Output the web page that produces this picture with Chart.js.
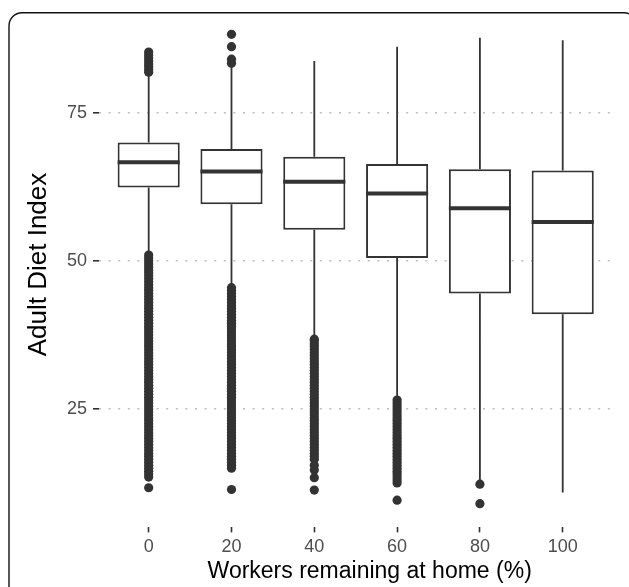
<!DOCTYPE html>
<html><head><meta charset="utf-8">
<script src="https://cdn.jsdelivr.net/npm/chart.js@4/dist/chart.umd.min.js"></script>
<style>html,body{margin:0;padding:0;background:#fff;} #wrap{width:629px;height:587px;position:relative;}</style>
</head><body><div id="wrap"><canvas id="c"></canvas></div>
<script>
// ---- data ----
const categories = [0, 20, 40, 60, 80, 100];
const xTickLabels = ['0', '20', '40', '60', '80', '100'];
const yTickValues = [25, 50, 75];
const q1 = [62.4, 59.6, 55.3, 50.5, 44.5, 41.0];
const median = [66.7, 65.1, 63.4, 61.4, 58.9, 56.6];
const q3 = [70.0, 68.9, 67.6, 66.4, 65.5, 65.3];
const whiskerLow = [51.5, 45.8, 37.3, 27.0, 13.0, 10.9];
const whiskerHigh = [81.6, 82.7, 83.8, 86.2, 87.7, 87.3];
const outliers0 = [85.3, 84.8, 84.3, 83.8, 83.3, 82.8, 82.3, 81.9,
  51, 50.5, 50, 49.5, 49, 48.5, 48, 47.5, 47, 46.5, 46, 45.5, 45, 44.5, 44, 43.5, 43, 42.5, 42, 41.5, 41, 40.5,
  40, 39.5, 39, 38.5, 38, 37.5, 37, 36.5, 36, 35.5, 35, 34.5, 34, 33.5, 33, 32.5, 32, 31.5, 31, 30.5,
  30, 29.5, 29, 28.5, 28, 27.5, 27, 26.5, 26, 25.5, 25, 24.5, 24, 23.5, 23, 22.5, 22, 21.5, 21, 20.5,
  20, 19.5, 19, 18.5, 18, 17.5, 17, 16.5, 16, 15.5, 15, 14.5, 14, 13.5, 11.7];
const outliers20 = [88.3, 86.2, 84.1, 83.4,
  45.5, 45, 44.5, 44, 43.5, 43, 42.5, 42, 41.5, 41, 40.5, 40, 39.5, 39, 38.5, 38, 37.5, 37, 36.5, 36,
  35.5, 35, 34.5, 34, 33.5, 33, 32.5, 32, 31.5, 31, 30.5, 30, 29.5, 29, 28.5, 28, 27.5, 27, 26.5, 26,
  25.5, 25, 24.5, 24, 23.5, 23, 22.5, 22, 21.5, 21, 20.5, 20, 19.5, 19, 18.5, 18, 17.5, 17, 16.5, 16,
  15.5, 15, 11.4];
const outliers40 = [36.8, 36.5, 36, 35.5, 35, 34.5, 34, 33.5, 33, 32.5, 32, 31.5, 31, 30.5, 30, 29.5, 29,
  28.5, 28, 27.5, 27, 26.5, 26, 25.5, 25, 24.5, 24, 23.5, 23, 22.5, 22, 21.5, 21, 20.5, 20, 19.5, 19,
  18.5, 18, 17.5, 17, 16.5, 15.5, 14.7, 13.4, 11.3];
const outliers60 = [26.5, 26, 25.5, 25, 24.5, 24, 23.5, 23, 22.5, 22, 21.5, 21, 20.5, 20, 19.5, 19, 18.5,
  18, 17.5, 17, 16.5, 16, 15.5, 15, 14.5, 14, 13.5, 13, 12.5, 9.6];
const outliers80 = [12.3, 9.0];
const outliers100 = [];
const outlierGroups = [outliers0, outliers20, outliers40, outliers60, outliers80, outliers100];
const xTitle = 'Workers remaining at home (%)';
const yTitle = 'Adult Diet Index';

// ---- build library datasets ----
const HALF = 7.5; // half box width in x units (box width = 0.75 of category spacing)
const DARK = '#333333';
const FONT = "'Liberation Sans', Arial, sans-serif";
const boxData = categories.map((c, i) => ({x: c, y: [q1[i], q3[i]]}));
const whiskerData = [];
categories.forEach((c, i) => {
  whiskerData.push({x: c, y: q3[i]}, {x: c, y: whiskerHigh[i]}, {x: c, y: null});
  whiskerData.push({x: c, y: q1[i]}, {x: c, y: whiskerLow[i]}, {x: c, y: null});
});
const medianData = [];
categories.forEach((c, i) => {
  medianData.push({x: c - HALF, y: median[i]}, {x: c + HALF, y: median[i]}, {x: c, y: null});
});
const outlierData = [];
categories.forEach((c, i) => outlierGroups[i].forEach(v => outlierData.push({x: c, y: v})));

Chart.defaults.font.family = FONT;

const frame = {
  id: 'frame',
  beforeDraw(chart) {
    const ctx = chart.ctx;
    ctx.save();
    ctx.fillStyle = '#fff';
    ctx.fillRect(0, 0, chart.width, chart.height);
    ctx.restore();
  },
  afterDraw(chart) {
    const ctx = chart.ctx;
    const ca = chart.chartArea;
    ctx.save();
    ctx.strokeStyle = '#111';
    ctx.lineWidth = 1.4;
    ctx.beginPath();
    ctx.roundRect(9, 12.7, 628, 640, 13);
    ctx.stroke();
    // axis titles
    ctx.fillStyle = '#000';
    ctx.textAlign = 'center';
    ctx.textBaseline = 'middle';
    ctx.font = '23px ' + FONT;
    ctx.fillText(xTitle, (ca.left + ca.right) / 2 + 14, 571.5);
    ctx.translate(38.5, (ca.top + ca.bottom) / 2 - 4.5);
    ctx.rotate(-Math.PI / 2);
    ctx.font = '26px ' + FONT;
    ctx.fillText(yTitle, 0, 0);
    ctx.restore();
  }
};

new Chart(document.getElementById('c'), {
  type: 'bar',
  plugins: [frame],
  data: {
    datasets: [
      {type: 'line', data: medianData, borderColor: DARK, borderWidth: 4, pointRadius: 0,
       spanGaps: false, borderCapStyle: 'butt', order: 0},
      {type: 'bar', data: boxData, backgroundColor: '#ffffff', borderColor: DARK, borderWidth: 2,
       borderSkipped: false, barPercentage: 0.75, categoryPercentage: 1, grouped: false, order: 1},
      {type: 'line', data: whiskerData, borderColor: DARK, borderWidth: 1.8, pointRadius: 0,
       spanGaps: false, borderCapStyle: 'butt', order: 2},
      {type: 'scatter', data: outlierData, backgroundColor: DARK, borderWidth: 0, pointRadius: 4.6,
       order: 3}
    ]
  },
  options: {
    responsive: true,
    maintainAspectRatio: false,
    animation: false,
    layout: {padding: {left: 26, right: 16.6, top: 10.6, bottom: 0}},
    plugins: {legend: {display: false}, tooltip: {enabled: false}},
    scales: {
      x: {
        type: 'linear', min: -12, max: 112, offset: false,
        afterBuildTicks: s => { s.ticks = categories.map(v => ({value: v})); },
        afterFit: s => { s.height = 59.6; s.paddingLeft = 0; s.paddingRight = 0; },
        grid: {drawOnChartArea: false, drawTicks: true, tickLength: 5, tickColor: DARK, tickWidth: 1.6, offset: false},
        border: {display: false},
        ticks: {padding: 4, color: '#4d4d4d', font: {size: 18}, maxRotation: 0, autoSkip: false,
          callback: (v) => xTickLabels[categories.indexOf(v)]},
        title: {display: false, text: xTitle}
      },
      y: {
        type: 'linear', min: 5, max: 92.3,
        afterBuildTicks: s => { s.ticks = yTickValues.map(v => ({value: v})); },
        afterFit: s => { s.width = 73; s.paddingTop = 0; s.paddingBottom = 0; },
        grid: {color: '#bdbdbd', lineWidth: 1.6, drawTicks: true, tickLength: 6, tickColor: DARK, tickWidth: 1.6},
        border: {display: false, dash: [2, 7.6]},
        ticks: {padding: 6, color: '#4d4d4d', font: {size: 18}},
        title: {display: false, text: yTitle}
      }
    }
  }
});
</script></body></html>
